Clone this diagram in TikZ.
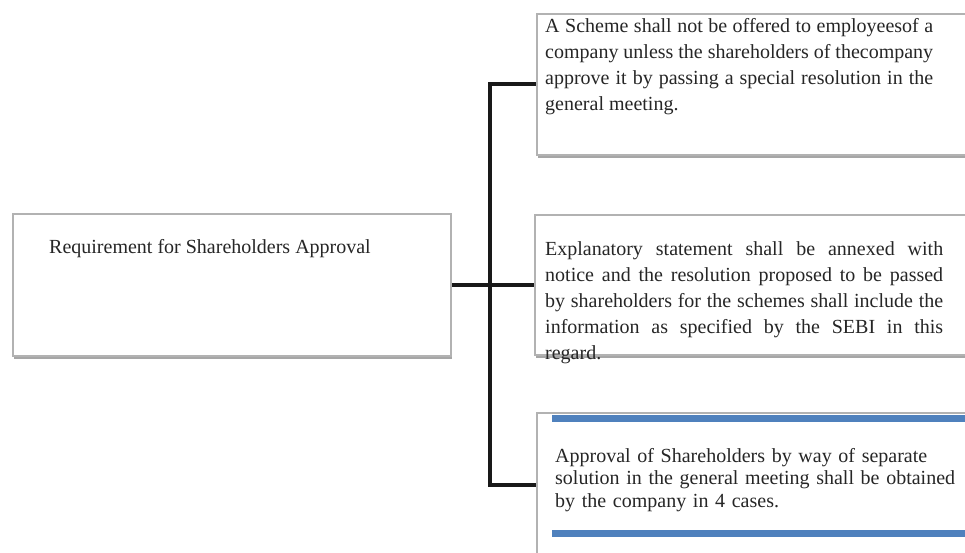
\documentclass[tikz,border=0pt]{standalone}
\usepackage{fontspec}
\setmainfont{Liberation Serif}
\usetikzlibrary{shadows}
\definecolor{txt}{HTML}{262626}
\definecolor{bar}{HTML}{4F81BD}
\begin{document}
\begin{tikzpicture}[x=1pt,y=-1pt,
  box/.style={draw=gray!60, line width=1.4pt, fill=white, rectangle, inner sep=0pt,
    drop shadow={shadow xshift=1pt, shadow yshift=-3pt, opacity=0.35, fill=black}},
  conn/.style={line width=4pt, draw=black!90},
  body/.style={inner sep=0pt, anchor=north west, text=txt, font=\fontsize{20}{26}\selectfont, align=justify}]
\useasboundingbox (0,0) rectangle (965,553);
\clip (0,0) rectangle (965,553);
% connectors
\coordinate (trunk) at (490,285);
\node[inner sep=0pt, minimum width=438pt, minimum height=142pt] (reqc) at (232,285) {};
\node[inner sep=0pt, minimum width=443pt, minimum height=141pt] (b1c) at (758.5,84.5) {};
\node[inner sep=0pt, minimum width=445pt, minimum height=140pt] (b2c) at (757.5,285) {};
\node[inner sep=0pt, minimum width=443pt, minimum height=144pt] (b3c) at (758.5,485) {};
\draw[conn] (reqc.east) -- (b2c.west);
\draw[conn] (b1c.west) -| (trunk) |- (b3c.west);
% boxes
\node[box, minimum width=438pt, minimum height=142pt] (req) at (232,285) {};
\node[box, minimum width=443pt, minimum height=141pt] (b1) at (758.5,84.5) {};
\node[box, minimum width=445pt, minimum height=140pt] (b2) at (757.5,285) {};
\node[box, minimum width=443pt, minimum height=144pt] (b3) at (758.5,485) {};
\fill[bar] (552,415) rectangle (970,422);
\fill[bar] (552,530) rectangle (970,537);
% texts
\node[anchor=base west, inner sep=0pt, font=\fontsize{20}{24}\selectfont, text=txt] (rt) at (49,253) {Requirement for Shareholders Approval};
\node[body, text width=388pt] (t1) at (545,17) {\rule{0pt}{15pt}A Scheme shall not be offered to employeesof a\linebreak company unless the shareholders of thecompany\linebreak approve it by passing a special resolution in the\linebreak general meeting.};
\node[body, text width=398pt] (t2) at (545,240) {\rule{0pt}{15pt}Explanatory statement shall be annexed with\linebreak notice and the resolution proposed to  be passed\linebreak by shareholders for the schemes shall include the\linebreak information as specified by the SEBI in this\linebreak regard.};
\node[body, align=left, text width=400pt, font=\fontsize{20}{22.5}\selectfont] (t3) at (555,447) {\rule{0pt}{15pt}Approval of Shareholders by way of separate\\ solution in the general meeting shall be obtained\\ by the company in 4 cases.};
\end{tikzpicture}
\end{document}
